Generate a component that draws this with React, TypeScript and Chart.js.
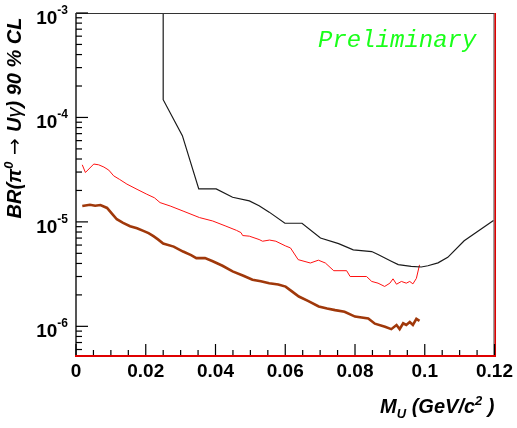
import React, { useEffect, useRef } from "react";
import { Chart, registerables } from "chart.js";

Chart.register(...registerables);

// ---- data ----
const blackMass = [0.025, 0.025, 0.0305, 0.0352, 0.0402, 0.0449, 0.0497, 0.0525, 0.0554, 0.0599, 0.0648, 0.0701, 0.0753, 0.0795, 0.0848, 0.0866, 0.0904, 0.0924, 0.0961, 0.099, 0.1009, 0.1038, 0.1066, 0.1113, 0.1197];
const blackBR = [3e-3, 1.48e-4, 6.7e-5, 2.07e-5, 2.07e-5, 1.72e-5, 1.59e-5, 1.43e-5, 1.24e-5, 9.7e-6, 9.7e-6, 7.0e-6, 6.2e-6, 5.4e-6, 5.2e-6, 4.87e-6, 4.2e-6, 3.9e-6, 3.75e-6, 3.7e-6, 3.8e-6, 4.05e-6, 4.58e-6, 6.6e-6, 1.03e-5];

const redMass = [0.0018, 0.0027, 0.0051, 0.0065, 0.008, 0.0094, 0.0108, 0.0125, 0.0146, 0.0175, 0.0203, 0.0225, 0.0241, 0.027, 0.0307, 0.0354, 0.0392, 0.043, 0.046, 0.0473, 0.0478, 0.0497, 0.0525, 0.0535, 0.0555, 0.0573, 0.06, 0.0615, 0.0637, 0.0672, 0.0695, 0.0715, 0.0739, 0.0776, 0.0786, 0.0833, 0.0848, 0.0866, 0.0885, 0.09, 0.0909, 0.0919, 0.0933, 0.0947, 0.0957, 0.0966, 0.0976, 0.0985];
const redBR = [3.52e-5, 2.97e-5, 3.58e-5, 3.52e-5, 3.35e-5, 3.13e-5, 2.76e-5, 2.55e-5, 2.3e-5, 2.05e-5, 1.84e-5, 1.7e-5, 1.53e-5, 1.42e-5, 1.27e-5, 1.1e-5, 1.02e-5, 9.1e-6, 8.3e-6, 7.9e-6, 7.4e-6, 7.3e-6, 6.78e-6, 6.53e-6, 6.7e-6, 6.53e-6, 5.9e-6, 5.63e-6, 4.35e-6, 4.04e-6, 4.3e-6, 4.04e-6, 3.41e-6, 3.41e-6, 3.0e-6, 3.0e-6, 2.69e-6, 2.59e-6, 2.41e-6, 2.59e-6, 2.85e-6, 2.53e-6, 2.69e-6, 2.59e-6, 2.69e-6, 2.55e-6, 2.88e-6, 3.88e-6];

const brownMass = [0.0018, 0.004, 0.0055, 0.007, 0.0089, 0.0103, 0.0117, 0.0135, 0.0155, 0.0175, 0.0193, 0.0208, 0.0222, 0.0235, 0.025, 0.028, 0.0307, 0.033, 0.0345, 0.037, 0.0392, 0.042, 0.0449, 0.048, 0.0506, 0.053, 0.0554, 0.058, 0.0601, 0.062, 0.0639, 0.0665, 0.0696, 0.072, 0.0743, 0.077, 0.08, 0.0838, 0.0857, 0.0886, 0.0904, 0.0919, 0.0928, 0.0938, 0.0947, 0.0957, 0.0966, 0.0976, 0.0985];
const brownBR = [1.42e-5, 1.46e-5, 1.43e-5, 1.45e-5, 1.36e-5, 1.2e-5, 1.06e-5, 9.8e-6, 9.1e-6, 8.7e-6, 8.2e-6, 7.8e-6, 7.3e-6, 6.8e-6, 6.2e-6, 5.8e-6, 5.2e-6, 4.8e-6, 4.5e-6, 4.5e-6, 4.2e-6, 3.8e-6, 3.36e-6, 3.05e-6, 2.79e-6, 2.7e-6, 2.59e-6, 2.52e-6, 2.4e-6, 2.15e-6, 1.93e-6, 1.75e-6, 1.55e-6, 1.48e-6, 1.43e-6, 1.38e-6, 1.24e-6, 1.19e-6, 1.06e-6, 9.9e-7, 9.4e-7, 1.03e-6, 9.4e-7, 1.07e-6, 1.03e-6, 1.1e-6, 1.03e-6, 1.18e-6, 1.13e-6];

const xMin = 0;
const xMax = 0.12;
const xMajorTicks = [0, 0.02, 0.04, 0.06, 0.08, 0.1, 0.12];
const xTickLabels = ["0", "0.02", "0.04", "0.06", "0.08", "0.1", "0.12"];
const xMinorTicks = [0, 0.005, 0.01, 0.015, 0.02, 0.025, 0.03, 0.035, 0.04, 0.045, 0.05, 0.055, 0.06, 0.065, 0.07, 0.075, 0.08, 0.085, 0.09, 0.095, 0.1, 0.105, 0.11, 0.115, 0.12];
const yMin = 5.2e-7;
const yMax = 1e-3;
const yDecades = [-6, -5, -4, -3];
const yDecadeLabels = ["-6", "-5", "-4", "-3"];
const yMinorMultipliers = [1, 2, 3, 4, 5, 6, 7, 8, 9];

const FONT = '"Liberation Sans", Arial, Helvetica, sans-serif';
const TICK_COLOR = "#000000";

type Run = { t: string; font: string; dy?: number };

function runsWidth(ctx: CanvasRenderingContext2D, runs: Run[]) {
  let w = 0;
  for (const r of runs) {
    ctx.font = r.font;
    w += ctx.measureText(r.t).width;
  }
  return w;
}
function drawRuns(ctx: CanvasRenderingContext2D, runs: Run[], x: number, y: number) {
  let cx = x;
  for (const r of runs) {
    ctx.font = r.font;
    ctx.fillText(r.t, cx, y + (r.dy || 0));
    cx += ctx.measureText(r.t).width;
  }
}

const decorPlugin = {
  id: "decor",
  afterDraw(chart: any) {
    const ctx: CanvasRenderingContext2D = chart.ctx;
    const area = chart.chartArea;
    const xs = chart.scales.x;
    const ys = chart.scales.y;
    const L = area.left;
    const R = area.right;
    const T = area.top;
    const B = area.bottom;

    ctx.save();
    ctx.textAlign = "left";
    ctx.textBaseline = "alphabetic";

    // frame
    ctx.fillStyle = "#333333";
    ctx.fillRect(L, T, R - L, 1);
    ctx.fillStyle = "#555555";
    ctx.fillRect(L - 1, T, 2, B - T);
    ctx.fillStyle = "#444444";
    ctx.fillRect(R - 1, T, 1, B - T);
    ctx.fillStyle = "#e00000";
    ctx.fillRect(L - 1, B - 1, R - L + 2, 2);
    ctx.fillRect(R, T, 1.5, B - T + 1);

    // x ticks (inward)
    ctx.fillStyle = TICK_COLOR;
    xMinorTicks.forEach((v, i) => {
      const px = xs.getPixelForValue(v);
      const len = i % 4 === 0 ? 11 : 5;
      ctx.fillRect(px - 0.6, B - 1 - len, 1.2, len);
    });

    // y ticks (inward)
    for (let d = -7; d <= -3; d++) {
      yMinorMultipliers.forEach((m) => {
        const v = m * Math.pow(10, d);
        if (v < yMin || v > yMax * 1.0001) return;
        const py = ys.getPixelForValue(v);
        const len = m === 1 ? 12 : 6;
        ctx.fillRect(L, py - 0.6, len, 1.2);
      });
    }

    // y labels 10^d
    ctx.fillStyle = "#000000";
    yDecades.forEach((d, i) => {
      const py = ys.getPixelForValue(Math.pow(10, d));
      const big = `bold 19px ${FONT}`;
      const small = `bold 12px ${FONT}`;
      ctx.font = small;
      const ws = ctx.measureText(yDecadeLabels[i]).width;
      ctx.font = big;
      const wb = ctx.measureText("10").width;
      const xr = L - 8;
      ctx.fillText("10", xr - ws - wb, py + 11);
      ctx.font = small;
      ctx.fillText(yDecadeLabels[i], xr - ws, py + 1);
    });

    // x title
    const bi = `italic bold 20px ${FONT}`;
    const bis = `italic bold 13px ${FONT}`;
    const xt: Run[] = [
      { t: "M", font: bi },
      { t: "U", font: bis, dy: 5 },
      { t: " (GeV/c", font: bi },
      { t: "2", font: bis, dy: -8 },
      { t: " )", font: bi },
    ];
    const wxt = runsWidth(ctx, xt);
    drawRuns(ctx, xt, R - wxt, 413);

    // y title (rotated)
    const yt: Run[] = [
      { t: "BR(", font: bi },
      { t: "π", font: bi },
      { t: "0", font: bis, dy: -8 },
      { t: " → ", font: `20px "DejaVu Sans", ${FONT}` },
      { t: "U", font: bi },
      { t: "γ", font: `italic 20px ${FONT}` },
      { t: ") 90 % CL", font: bi },
    ];
    const wyt = runsWidth(ctx, yt);
    ctx.save();
    ctx.translate(21, 118);
    ctx.rotate(-Math.PI / 2);
    drawRuns(ctx, yt, -wyt / 2, 0);
    ctx.restore();

    // Preliminary
    ctx.fillStyle = "#1aff1a";
    ctx.font = `italic 24px "Liberation Mono", "Courier New", monospace`;
    ctx.fillText("Preliminary", 318, 47);

    ctx.restore();
  },
};

function toPoints(xs: number[], ys: number[]) {
  return xs.map((x, i) => ({ x, y: ys[i] }));
}

export default function App() {
  const ref = useRef<HTMLCanvasElement | null>(null);
  useEffect(() => {
    document.body.style.margin = "0";
    const canvas = ref.current!;
    const chart = new Chart(canvas, {
      type: "line",
      data: {
        datasets: [
          { data: toPoints(blackMass, blackBR), borderColor: "#1a1a1a", borderWidth: 1.2, pointRadius: 0, tension: 0, fill: false },
          { data: toPoints(redMass, redBR), borderColor: "#ff1010", borderWidth: 1, pointRadius: 0, tension: 0, fill: false },
          { data: toPoints(brownMass, brownBR), borderColor: "#a0380a", borderWidth: 2.6, pointRadius: 0, tension: 0, fill: false },
        ],
      },
      options: {
        animation: false,
        responsive: false,
        devicePixelRatio: 1,
        layout: { padding: { top: 13, right: 20, left: 0, bottom: 0 } },
        plugins: { legend: { display: false }, tooltip: { enabled: false } },
        events: [],
        scales: {
          x: {
            type: "linear",
            min: xMin,
            max: xMax,
            grid: { display: false, drawTicks: false },
            border: { display: false },
            afterBuildTicks: (s: any) => {
              s.ticks = xMajorTicks.map((v) => ({ value: v }));
            },
            ticks: {
              callback: (_v: any, i: number) => xTickLabels[i],
              font: { family: FONT, size: 19, weight: "bold" },
              color: "#000",
              padding: 4,
              maxRotation: 0,
              autoSkip: false,
            },
            afterFit: (s: any) => {
              s.height = 72;
            },
          },
          y: {
            type: "logarithmic",
            min: yMin,
            max: yMax,
            grid: { display: false, drawTicks: false },
            border: { display: false },
            ticks: { display: false },
            afterFit: (s: any) => {
              s.width = 76;
            },
          },
        },
      } as any,
      plugins: [decorPlugin],
    });
    return () => chart.destroy();
  }, []);
  return (
    <div style={{ width: 517, height: 428, background: "#fff" }}>
      <canvas ref={ref} width={517} height={428} style={{ display: "block" }} />
    </div>
  );
}
